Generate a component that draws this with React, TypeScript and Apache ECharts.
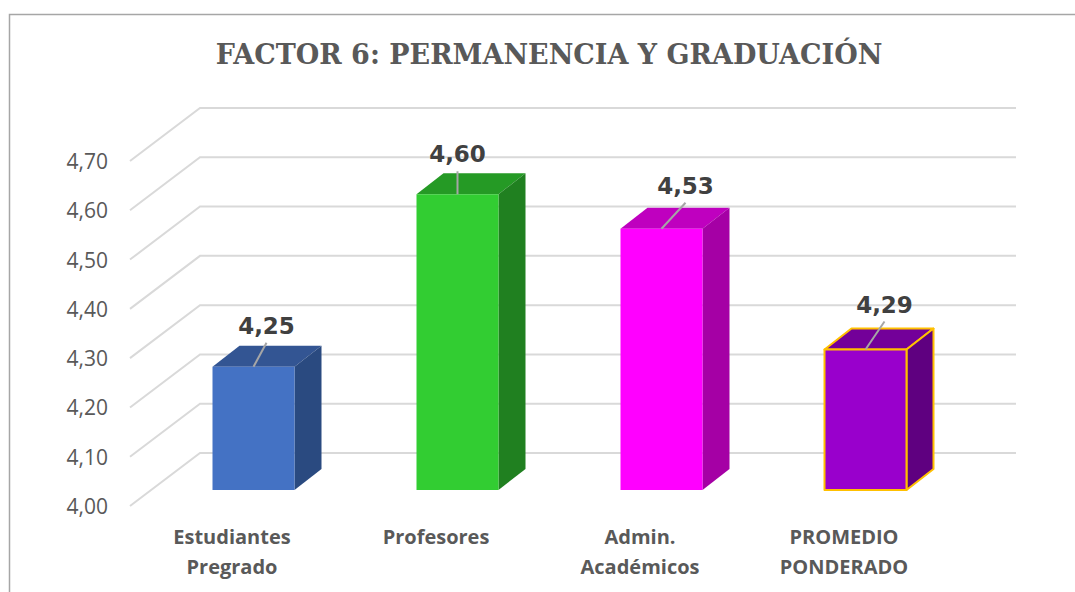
import React, { useEffect, useRef } from "react";
import * as echarts from "echarts";

const titleText = "FACTOR 6: PERMANENCIA Y GRADUACIÓN";
const categories = ["Estudiantes\nPregrado", "Profesores", "Admin.\nAcadémicos", "PROMEDIO\nPONDERADO"];
const values = [4.25, 4.6, 4.53, 4.285];
const ticks = [4.0, 4.1, 4.2, 4.3, 4.4, 4.5, 4.6, 4.7];

const frontColors = ["#4472C4", "#32CD32", "#FF00FF", "#9900CC"];
const topColors = ["#335593", "#259A25", "#BF00BF", "#730099"];
const sideColors = ["#2A4A80", "#208020", "#A500A5", "#5F0080"];
const edgeColors = ["none", "none", "none", "#FFC000"];
const labelOffsets = [[13, -41], [0, -40], [24, -43], [19, -45]];

const comma = (v: number) => v.toFixed(2).replace(".", ",");

export default function App() {
  const ref = useRef<HTMLDivElement>(null);
  useEffect(() => {
    const chart = echarts.init(ref.current!, undefined, { renderer: "svg" });
    const wall = [70, -53];
    const inset = [21.5, -16];
    const depth = [27, -21];
    const barW = 82;

    chart.setOption({
      animation: false,
      backgroundColor: "#ffffff",
      title: {
        text: titleText,
        left: 544,
        top: 36,
        textAlign: "center",
        textStyle: { fontFamily: "DejaVu Serif", fontWeight: "bold", fontSize: 27, color: "#595959" },
      },
      graphic: [
        {
          type: "polyline",
          shape: { points: [[9.5, 592], [9.5, 14.5], [1075, 14.5]] },
          style: { stroke: "#a6a6a6", lineWidth: 1.5, fill: "none" },
        },
      ],
      grid: { left: 130, width: 816, top: 161, height: 345 },
      xAxis: {
        type: "category",
        data: categories,
        axisLine: { show: false },
        axisTick: { show: false },
        axisLabel: {
          margin: 15,
          fontFamily: "Open Sans",
          fontWeight: "bold",
          fontSize: 20,
          lineHeight: 30,
          color: "#595959",
          interval: 0,
        },
      },
      yAxis: {
        type: "value",
        min: 4,
        max: 4.7,
        interval: 0.1,
        axisLine: { show: false },
        axisTick: { show: false },
        splitLine: { show: false },
        axisLabel: {
          margin: 22,
          fontFamily: "Open Sans",
          fontSize: 21,
          color: "#595959",
          padding: [2, 0, 0, 0],
          formatter: (v: number) => comma(v),
        },
      },
      series: [
        {
          type: "custom",
          coordinateSystem: "cartesian2d",
          silent: true,
          clip: false,
          z: 1,
          data: ticks.map((t) => [0, t]),
          encode: { x: 0, y: 1 },
          renderItem: (params: any, api: any) => {
            const y = api.coord([0, api.value(1)])[1];
            const sys = params.coordSys;
            return {
              type: "polyline",
              shape: {
                points: [
                  [sys.x, y],
                  [sys.x + wall[0], y + wall[1]],
                  [sys.x + sys.width + wall[0], y + wall[1]],
                ],
              },
              style: { stroke: "#d9d9d9", lineWidth: 2, fill: "none" },
            };
          },
        },
        {
          type: "custom",
          coordinateSystem: "cartesian2d",
          silent: true,
          clip: false,
          z: 2,
          data: values.map((v, i) => [i, v]),
          encode: { x: 0, y: 1 },
          renderItem: (params: any, api: any) => {
            const i = params.dataIndex;
            const top = api.coord([api.value(0), api.value(1)]);
            const base = api.coord([api.value(0), 4]);
            const cx = top[0] + inset[0];
            const l = cx - barW / 2;
            const r = cx + barW / 2;
            const t = top[1] + inset[1];
            const b = base[1] + inset[1];
            const dx = depth[0];
            const dy = depth[1];
            const edge = edgeColors[i];
            const lw = edge === "none" ? 0 : 2;
            const off = labelOffsets[i];
            const poly = (points: number[][], fill: string) => ({
              type: "polygon",
              shape: { points },
              style: { fill, stroke: edge, lineWidth: lw, lineJoin: "round" },
            });
            return {
              type: "group",
              children: [
                poly([[l, t], [r, t], [r + dx, t + dy], [l + dx, t + dy]], topColors[i]),
                poly([[r, t], [r + dx, t + dy], [r + dx, b + dy], [r, b]], sideColors[i]),
                poly([[l, t], [r, t], [r, b], [l, b]], frontColors[i]),
                {
                  type: "line",
                  shape: { x1: cx, y1: t, x2: cx + off[0], y2: t + off[1] + 17 },
                  style: { stroke: "#a6a6a6", lineWidth: 2 },
                },
                {
                  type: "text",
                  x: cx + off[0],
                  y: t + off[1],
                  style: {
                    text: comma(api.value(1) + 0.0001),
                    fontFamily: "DejaVu Sans",
                    fontWeight: "bold",
                    fontSize: 23,
                    fill: "#404040",
                    align: "center",
                    verticalAlign: "middle",
                  },
                },
              ],
            };
          },
        },
      ],
    });
    return () => chart.dispose();
  }, []);
  return <div ref={ref} style={{ position: "fixed", left: 0, top: 0, width: 1075, height: 592 }} />;
}
